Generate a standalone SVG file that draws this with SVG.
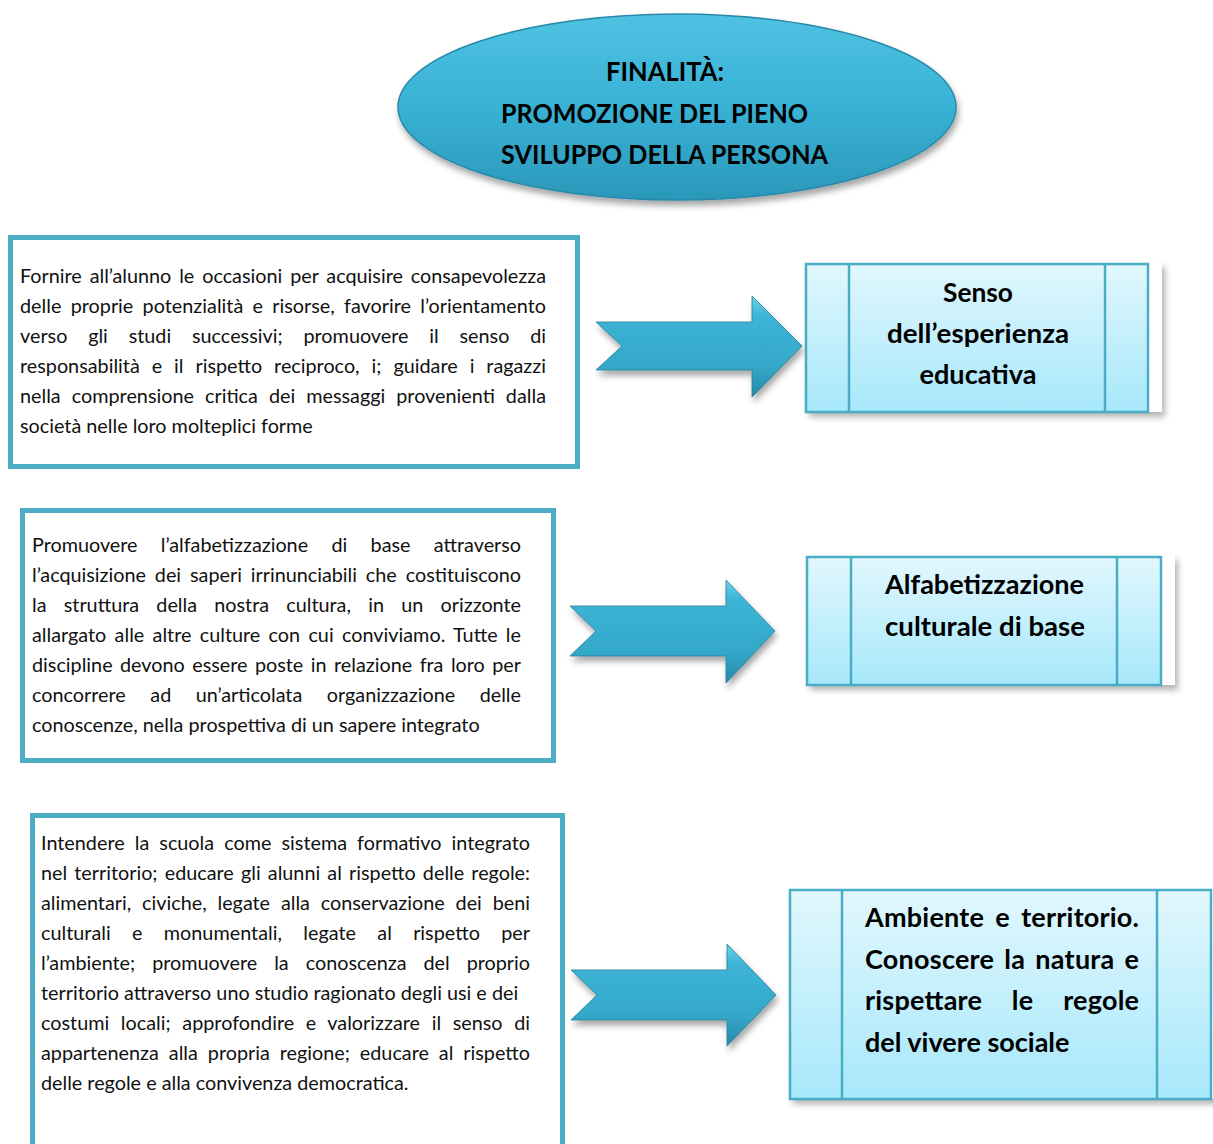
<svg xmlns="http://www.w3.org/2000/svg" width="1213" height="1144" viewBox="0 0 1213 1144">
  <defs>
    <linearGradient id="ovalFill" x1="0" y1="0" x2="0" y2="1">
      <stop offset="0" stop-color="#4fc2e2"/>
      <stop offset="0.5" stop-color="#38b2d5"/>
      <stop offset="1" stop-color="#2b97b9"/>
    </linearGradient>
    <linearGradient id="arrowFill" x1="0" y1="0" x2="0" y2="1">
      <stop offset="0" stop-color="#6fd3ec"/>
      <stop offset="0.18" stop-color="#3db5d6"/>
      <stop offset="0.7" stop-color="#33a8c9"/>
      <stop offset="1" stop-color="#2888a8"/>
    </linearGradient>
    <linearGradient id="boxFill" x1="0" y1="0" x2="0" y2="1">
      <stop offset="0" stop-color="#e1f7fd"/>
      <stop offset="1" stop-color="#a7e8fb"/>
    </linearGradient>
    <filter id="softShadow" x="-10%" y="-10%" width="130%" height="140%">
      <feDropShadow dx="2" dy="5" stdDeviation="3" flood-color="#000" flood-opacity="0.35"/>
    </filter>
    <filter id="boxShadow" x="-5%" y="-5%" width="115%" height="120%">
      <feDropShadow dx="3" dy="5" stdDeviation="3" flood-color="#000" flood-opacity="0.3"/>
    </filter>
    <style>
      .frame { fill: #ffffff; stroke: #4bacc6; stroke-width: 5; }
      .backing { fill: #ffffff; }
      .card { fill: url(#boxFill); stroke: #4bacc6; stroke-width: 2.5; }
      .divider { stroke: #4bacc6; stroke-width: 2.5; }
      .arrow { fill: url(#arrowFill); stroke: #2a7e98; stroke-width: 0.8; }
      .body { font-family: Lato, "Open Sans", "Liberation Sans", sans-serif; font-size: 19.8px; fill: #111; }
      .head { font-family: Lato, "Open Sans", "Liberation Sans", sans-serif; font-size: 27px; font-weight: bold; fill: #000; }
    </style>
  </defs>

  <!-- Title oval -->
  <g id="finalita">
    <ellipse cx="677" cy="107" rx="279" ry="93" fill="url(#ovalFill)" stroke="#2a89a8" stroke-width="1.5" filter="url(#softShadow)"/>
    <text class="head" x="606" y="81" textLength="118" lengthAdjust="spacingAndGlyphs">FINALITÀ:</text>
    <text class="head" x="501" y="123" textLength="307" lengthAdjust="spacingAndGlyphs">PROMOZIONE DEL PIENO</text>
    <text class="head" x="501" y="164" textLength="327" lengthAdjust="spacingAndGlyphs">SVILUPPO DELLA PERSONA</text>
  </g>

  <!-- Description boxes (justified lines: word-spacing plus textLength) -->
  <g id="desc-1">
    <rect class="frame" x="10.5" y="237.5" width="567" height="229"/>
    <text class="body" x="20" y="283" word-spacing="2.8" textLength="526" lengthAdjust="spacing">Fornire all’alunno le occasioni per acquisire consapevolezza</text>
    <text class="body" x="20" y="313" word-spacing="4.2" textLength="526" lengthAdjust="spacing">delle proprie potenzialità e risorse, favorire l’orientamento</text>
    <text class="body" x="20" y="343" word-spacing="15.7" textLength="526" lengthAdjust="spacing">verso gli studi successivi; promuovere il senso di</text>
    <text class="body" x="20" y="373" word-spacing="6.9" textLength="526" lengthAdjust="spacing">responsabilità e il rispetto reciproco, i; guidare i  ragazzi</text>
    <text class="body" x="20" y="403" word-spacing="5.9" textLength="526" lengthAdjust="spacing">nella comprensione critica dei messaggi provenienti dalla</text>
    <text class="body" x="20" y="433">società nelle loro molteplici forme</text>
  </g>

  <g id="desc-2">
    <rect class="frame" x="22.5" y="510.5" width="531" height="250"/>
    <text class="body" x="32" y="552" word-spacing="18.3" textLength="489" lengthAdjust="spacing">Promuovere l’alfabetizzazione di base attraverso</text>
    <text class="body" x="32" y="582" word-spacing="3.9" textLength="489" lengthAdjust="spacing">l’acquisizione dei saperi irrinunciabili che costituiscono</text>
    <text class="body" x="32" y="612" word-spacing="12.2" textLength="489" lengthAdjust="spacing">la struttura della nostra cultura, in un orizzonte</text>
    <text class="body" x="32" y="642" word-spacing="3.2" textLength="489" lengthAdjust="spacing">allargato alle altre culture con cui conviviamo. Tutte le</text>
    <text class="body" x="32" y="672" word-spacing="2.4" textLength="489" lengthAdjust="spacing">discipline devono essere poste in relazione fra loro per</text>
    <text class="body" x="32" y="702" word-spacing="19.4" textLength="489" lengthAdjust="spacing">concorrere ad un’articolata organizzazione delle</text>
    <text class="body" x="32" y="732">conoscenze, nella prospettiva di un sapere integrato</text>
  </g>

  <g id="desc-3">
    <rect class="frame" x="32.5" y="815.5" width="530" height="345"/>
    <text class="body" x="41" y="850" word-spacing="5" textLength="489" lengthAdjust="spacing">Intendere la scuola come sistema formativo integrato</text>
    <text class="body" x="41" y="880" word-spacing="2.1" textLength="489" lengthAdjust="spacing">nel territorio; educare gli alunni al rispetto delle regole:</text>
    <text class="body" x="41" y="910" word-spacing="5.8" textLength="489" lengthAdjust="spacing">alimentari, civiche, legate alla conservazione dei beni</text>
    <text class="body" x="41" y="940" word-spacing="16.2" textLength="489" lengthAdjust="spacing">culturali e monumentali, legate al rispetto per</text>
    <text class="body" x="41" y="970" word-spacing="12" textLength="489" lengthAdjust="spacing">l’ambiente; promuovere la conoscenza del proprio</text>
    <text class="body" x="41" y="1000">territorio attraverso uno studio ragionato degli usi e dei</text>
    <text class="body" x="41" y="1030" word-spacing="6.5" textLength="489" lengthAdjust="spacing">costumi locali; approfondire e valorizzare il senso di</text>
    <text class="body" x="41" y="1060" word-spacing="4.9" textLength="489" lengthAdjust="spacing">appartenenza alla propria regione; educare al rispetto</text>
    <text class="body" x="41" y="1090">delle regole e alla convivenza democratica.</text>
  </g>

  <!-- Connecting arrows -->
  <g id="connectors">
    <path class="arrow" filter="url(#softShadow)" d="M596,322 L752,322 L752,296 L802,346 L752,397 L752,370 L596,370 L622,346 Z"/>
    <path class="arrow" filter="url(#softShadow)" d="M570,606 L726,606 L726,580 L775,631 L726,683 L726,656 L570,656 L596,631 Z"/>
    <path class="arrow" filter="url(#softShadow)" d="M571,970 L727,970 L727,944 L776,995 L727,1046 L727,1020 L571,1020 L597,995 Z"/>
  </g>

  <!-- Outcome cards -->
  <g id="senso">
    <rect class="backing" x="806" y="262" width="356" height="150" filter="url(#boxShadow)"/>
    <rect class="card" x="806" y="264" width="342" height="148"/>
    <line class="divider" x1="849" y1="264" x2="849" y2="412"/>
    <line class="divider" x1="1105" y1="264" x2="1105" y2="412"/>
    <text class="head" x="978" y="302" text-anchor="middle" textLength="70" lengthAdjust="spacingAndGlyphs">Senso</text>
    <text class="head" x="978" y="343" text-anchor="middle" textLength="182" lengthAdjust="spacingAndGlyphs">dell’esperienza</text>
    <text class="head" x="978" y="384" text-anchor="middle" textLength="117" lengthAdjust="spacingAndGlyphs">educativa</text>
  </g>

  <g id="alfabetizzazione">
    <rect class="backing" x="807" y="555" width="368" height="130" filter="url(#boxShadow)"/>
    <rect class="card" x="807" y="557" width="354" height="128"/>
    <line class="divider" x1="851" y1="557" x2="851" y2="685"/>
    <line class="divider" x1="1117" y1="557" x2="1117" y2="685"/>
    <text class="head" x="885" y="594" textLength="199" lengthAdjust="spacingAndGlyphs">Alfabetizzazione</text>
    <text class="head" x="885" y="636" textLength="200" lengthAdjust="spacingAndGlyphs">culturale di base</text>
  </g>

  <g id="ambiente">
    <rect class="backing" x="790" y="888" width="430" height="211" filter="url(#boxShadow)"/>
    <rect class="card" x="790" y="890" width="421" height="209"/>
    <line class="divider" x1="842" y1="890" x2="842" y2="1099"/>
    <line class="divider" x1="1157" y1="890" x2="1157" y2="1099"/>
    <text class="head" x="865" y="927" word-spacing="4.5" textLength="274" lengthAdjust="spacing">Ambiente e territorio.</text>
    <text class="head" x="865" y="969" word-spacing="3.3" textLength="274" lengthAdjust="spacing">Conoscere la natura e</text>
    <text class="head" x="865" y="1010" word-spacing="23" textLength="274" lengthAdjust="spacing">rispettare le regole</text>
    <text class="head" x="865" y="1052">del vivere sociale</text>
  </g>
</svg>
